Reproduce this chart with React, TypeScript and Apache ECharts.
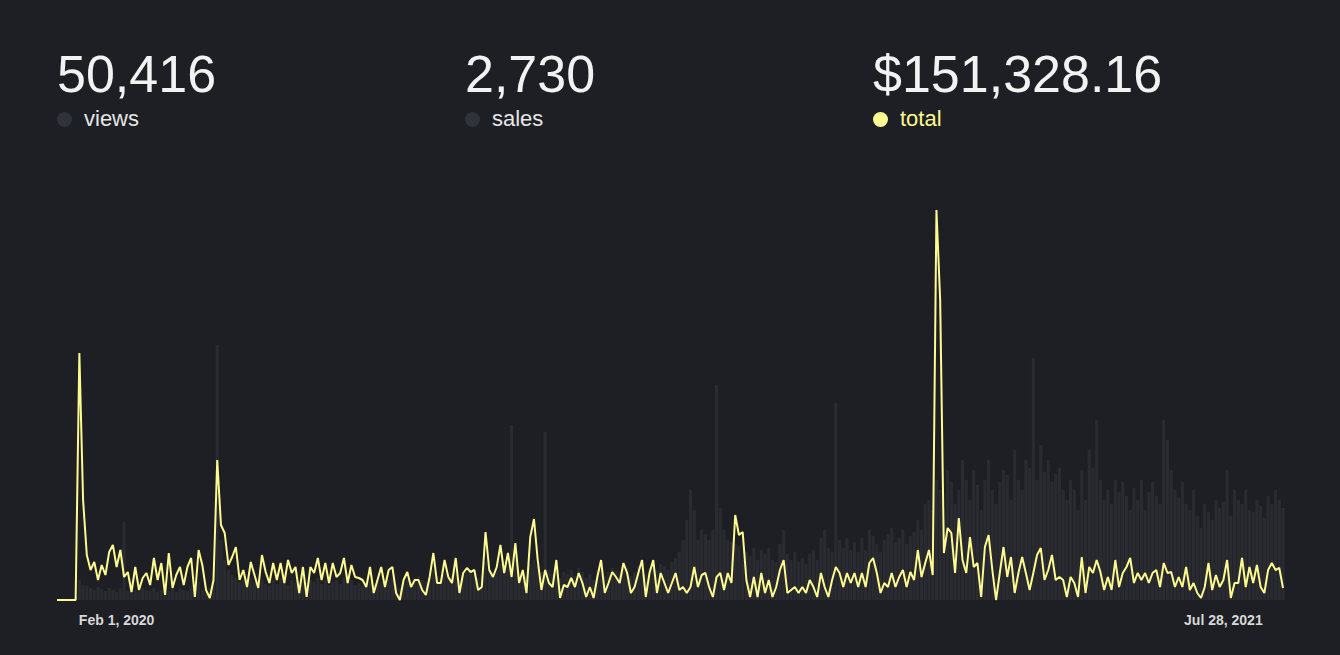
import { useEffect, useRef } from 'react'
import * as echarts from 'echarts'

// total revenue per 2-day step (arbitrary units)
const totals: number[] = [
  // Jan – Apr 2020
  0, 0, 0, 0, 0, 0, 247, 100, 45, 30, 38, 20, 35, 25, 48, 55, 33, 50, 23, 28, 8, 33, 10, 22, 27, 15, 42, 20, 37, 5, 47, 12, 25, 33, 15, 33, 42, 3, 50, 35, 10, 2, 20, 140, 75, 67, 35, 43, 53, 20, 30, 13, 38, 25, 12, 45, 28,
  17, 37, 20, 37, 17, 40, 27, 33, 7, 33, 3, 33, 27, 42, 20, 37, 17, 37, 23, 27, 42, 17, 35, 23, 22, 20, 13, 33, 7, 20, 33, 13, 30, 33, 7, 0, 20, 28, 13, 20, 20, 10, 5, 23, 47, 17, 17, 40,
  23, 17, 42, 7, 27, 32, 28, 30, 10, 13, 68, 30, 23, 33, 55, 27, 47, 23, 57, 17, 30, 7, 63, 81, 40, 10, 30, 17, 13, 40, 2, 15, 13, 22, 13, 27, 17, 3, 13, 2, 23, 40, 7, 17, 28, 23, 17, 37, 27, 7, 13, 27, 40, 3, 27,
  40, 7, 27, 17, 7, 17, 27, 10, 13, 7, 13, 33, 13, 25, 27, 13, 3, 23, 27, 10, 27, 17, 85, 65, 68, 20, 3, 23, 3, 27, 7, 20, 3, 13, 30, 40, 7, 10, 13, 7, 13, 7, 20, 13, 3, 27, 13, 3, 20, 33, 27, 13, 27, 17,
  27, 13, 27, 13, 37, 42, 27, 7, 17, 13, 27, 13, 23, 30, 13, 28, 20, 50, 23, 37, 50, 25, 390, 300, 47, 72, 67, 27, 82, 40, 27, 63, 33, 37, 3, 53, 65, 30, 0, 27, 53, 23, 43, 7, 27, 43, 27, 10, 27, 45, 52, 20, 30, 45, 20, 23, 20, 3,
  23, 17, 3, 43, 7, 33, 27, 40, 28, 10, 23, 10, 40, 13, 27, 33, 42, 17, 27, 20, 27, 17, 27, 30, 13, 37, 27, 28, 13, 23, 13, 33, 10, 17, 7, 2, 13, 37, 10, 25, 13, 20, 40, 2, 17, 17, 42, 13, 33, 17, 35, 13, 7, 30, 37, 30, 32, 12,
]

// views per step, faint bars behind the line
const views: number[] = [
  0, 0, 0, 0, 0, 2, 20, 15, 14, 12, 10, 13, 11, 9, 12, 10, 8, 12, 78, 9, 7, 10, 8, 12, 10, 9, 12, 8, 10, 14, 9, 11, 8, 12, 10, 9, 14, 12, 18, 10, 8, 12, 20, 255, 60, 40, 30, 25, 22, 18, 20, 15, 22, 18, 14, 20, 16,
  14, 20, 16, 22, 18, 15, 20, 17, 12, 18, 14, 20, 18, 22, 16, 20, 15, 18, 20, 16, 22, 18, 20, 15, 17, 14, 12, 18, 15, 20, 18, 14, 20, 22, 16, 12, 18, 20, 16, 22, 24, 20, 18, 22, 30, 24, 20, 26,
  22, 24, 30, 20, 26, 28, 30, 26, 22, 24, 38, 30, 28, 32, 36, 30, 34, 175, 40, 28, 30, 24, 36, 40, 34, 28, 168, 30, 26, 34, 22, 28, 26, 30, 24, 32, 28, 22, 26, 20, 30, 38, 24, 28, 32, 30, 28, 36, 32, 24, 28, 34, 40, 26, 32,
  40, 30, 36, 34, 30, 38, 42, 48, 60, 80, 110, 90, 60, 70, 66, 60, 70, 215, 92, 70, 60, 58, 56, 54, 40, 48, 44, 52, 40, 50, 46, 52, 40, 38, 56, 70, 46, 40, 48, 38, 42, 36, 46, 50, 40, 62, 70, 52, 48, 197, 60, 52, 62, 50,
  58, 48, 62, 50, 70, 64, 56, 48, 60, 66, 72, 58, 62, 70, 56, 64, 68, 80, 70, 96, 100, 90, 120, 110, 80, 130, 118, 96, 110, 140, 120, 100, 130, 115, 90, 120, 140, 110, 96, 118, 130, 125, 100, 150, 120, 110, 140, 132, 242, 120, 155, 128, 140, 118, 126, 132, 110, 100,
  120, 110, 90, 130, 100, 150, 132, 180, 120, 100, 110, 96, 120, 108, 118, 104, 90, 112, 100, 120, 90, 108, 118, 104, 96, 180, 160, 130, 110, 102, 118, 96, 90, 110, 84, 72, 96, 88, 80, 100, 92, 98, 130, 84, 110, 100, 96, 110, 90, 88, 100, 94, 82, 104, 96, 110, 100, 92,
]

// x-axis: only two dates are shown
const tickLabels: Record<number, string> = { 16: 'Feb 1, 2020', 313: 'Jul 28, 2021' }

const stats = [
  { value: '50,416', label: 'views', dot: '#30323a', text: '#e6e6e6', left: 57 },
  { value: '2,730', label: 'sales', dot: '#30323a', text: '#e6e6e6', left: 465 },
  { value: '$151,328.16', label: 'total', dot: '#fdfa91', text: '#fdfa91', left: 873 },
]

const BG = '#1e1f24'
const YELLOW = '#fdfa91'

function RevenueChart() {
  const chartRef = useRef<HTMLDivElement>(null)

  useEffect(() => {
    if (!chartRef.current) return
    const chart = echarts.init(chartRef.current, undefined, { renderer: 'svg' })
    const cats = totals.map((_, i) => String(i))

    chart.setOption({
      animation: false,
      backgroundColor: 'transparent',
      grid: { left: 57, right: 57, top: 0, bottom: 55 },
      xAxis: {
        type: 'category',
        data: cats,
        boundaryGap: false,
        axisLine: { show: false },
        axisTick: { show: false },
        axisLabel: {
          interval: (i: number) => tickLabels[i] !== undefined,
          formatter: (_v: string, i: number) => tickLabels[i] ?? '',
          color: '#d8d8d8',
          fontSize: 14,
          fontWeight: 'bold',
          fontFamily: 'Liberation Sans, Arial, sans-serif',
          margin: 13,
        },
      },
      yAxis: { type: 'value', min: 0, max: 390, show: false },
      series: [
        {
          type: 'bar',
          data: views,
          barCategoryGap: '15%',
          itemStyle: { color: 'rgba(255,255,255,0.055)' },
        },
        {
          type: 'line',
          data: totals,
          symbol: 'none',
          lineStyle: { color: YELLOW, width: 2 },
        },
      ],
    })

    return () => chart.dispose()
  }, [])

  return <div ref={chartRef} style={{ position: 'absolute', left: 0, top: 210, width: 1340, height: 445 }} />
}

export default function App() {
  return (
    <div
      style={{
        position: 'fixed',
        inset: 0,
        width: 1340,
        height: 655,
        background: BG,
        fontFamily: 'Liberation Sans, Arial, sans-serif',
        overflow: 'hidden',
      }}
    >
      {stats.map((s) => (
        <div key={s.label} style={{ position: 'absolute', left: s.left, top: 44 }}>
          <div style={{ fontSize: 52, color: '#f2f2f2', lineHeight: '60px' }}>{s.value}</div>
          <div style={{ display: 'flex', alignItems: 'center', marginTop: 2 }}>
            <span
              style={{
                width: 15,
                height: 15,
                borderRadius: '50%',
                background: s.dot,
                display: 'inline-block',
                marginRight: 12,
              }}
            />
            <span style={{ fontSize: 22, color: s.text }}>{s.label}</span>
          </div>
        </div>
      ))}
      <RevenueChart />
    </div>
  )
}
